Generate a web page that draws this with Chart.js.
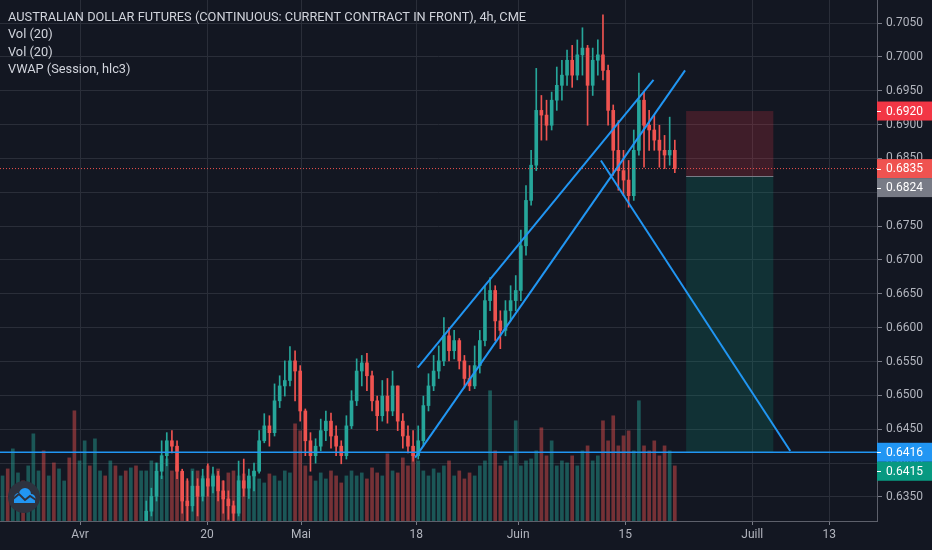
<!DOCTYPE html>
<html>
<head>
<meta charset="utf-8">
<script src="https://cdn.jsdelivr.net/npm/chart.js@4.4.1/dist/chart.umd.min.js"></script>
<style>
  html, body { margin: 0; padding: 0; background: #131722; }
  canvas { display: block; }
</style>
</head>
<body>
<canvas id="chart" width="932" height="550"></canvas>
<script>
// AUD futures, one candle per half trading day, oldest first
var firstOpen = 0.6060;
var closes = [
  0.6070, 0.6040, 0.6085, 0.6110, 0.6060, 0.6095, 0.6120, 0.6150, 0.6130, 0.6165,
  0.6140, 0.6180, 0.6200, 0.6170, 0.6150, 0.6190, 0.6215, 0.6195, 0.6230, 0.6250,
  0.6225, 0.6260, 0.6240, 0.6270, 0.6255, 0.6280, 0.6265, 0.6290,
  0.6329, 0.6351, 0.6388, 0.6411, 0.6433, 0.6425, 0.6388, 0.6344, 0.6337, 0.6366,
  0.6351, 0.6377, 0.6366, 0.6381, 0.6359, 0.6347, 0.6337, 0.6326, 0.6374, 0.6363,
  0.6381, 0.6388, 0.6433, 0.6455, 0.6445, 0.6492, 0.6514, 0.6522, 0.6551, 0.6536,
  0.6477, 0.6433, 0.6411, 0.6425, 0.6448, 0.6462, 0.6440, 0.6425, 0.6411, 0.6455,
  0.6492, 0.6536, 0.6548, 0.6529, 0.6492, 0.6470, 0.6499, 0.6477, 0.6514, 0.6462,
  0.6440, 0.6425, 0.6411, 0.6433, 0.6485, 0.6514, 0.6536, 0.6551, 0.6588, 0.6566,
  0.6581, 0.6551, 0.6525, 0.6514, 0.6544, 0.6581, 0.6640, 0.6655, 0.6610, 0.6596,
  0.6625, 0.6640, 0.6655, 0.6721, 0.6788, 0.6840, 0.6921, 0.6914, 0.6899, 0.6936,
  0.6958, 0.6973, 0.6995, 0.6973, 0.7003, 0.7013, 0.6958, 0.6995, 0.7003, 0.6980,
  0.6921, 0.6862, 0.6832, 0.6818, 0.6795, 0.6862, 0.6936, 0.6899, 0.6892, 0.6877,
  0.6862, 0.6855, 0.6862, 0.6835
];
var highs = [
  0.6090, 0.6080, 0.6100, 0.6125, 0.6115, 0.6110, 0.6135, 0.6165, 0.6160, 0.6180,
  0.6170, 0.6195, 0.6215, 0.6205, 0.6185, 0.6205, 0.6230, 0.6220, 0.6245, 0.6265,
  0.6255, 0.6275, 0.6265, 0.6285, 0.6280, 0.6295, 0.6290, 0.6305,
  0.6344, 0.6363, 0.6400, 0.6433, 0.6445, 0.6448, 0.6433, 0.6391, 0.6377, 0.6388,
  0.6377, 0.6391, 0.6399, 0.6394, 0.6388, 0.6374, 0.6359, 0.6344, 0.6403, 0.6406,
  0.6391, 0.6400, 0.6448, 0.6473, 0.6470, 0.6517, 0.6529, 0.6551, 0.6572, 0.6566,
  0.6544, 0.6480, 0.6445, 0.6436, 0.6465, 0.6477, 0.6474, 0.6455, 0.6433, 0.6470,
  0.6507, 0.6554, 0.6559, 0.6562, 0.6536, 0.6499, 0.6522, 0.6525, 0.6536, 0.6514,
  0.6473, 0.6455, 0.6448, 0.6455, 0.6499, 0.6532, 0.6559, 0.6573, 0.6615, 0.6600,
  0.6596, 0.6584, 0.6559, 0.6544, 0.6573, 0.6596, 0.6662, 0.6674, 0.6662, 0.6625,
  0.6640, 0.6662, 0.6677, 0.6744, 0.6810, 0.6862, 0.6983, 0.6943, 0.6936, 0.6948,
  0.6985, 0.6995, 0.7010, 0.7017, 0.7025, 0.7043, 0.7017, 0.7013, 0.7025, 0.7062,
  0.6988, 0.6929, 0.6906, 0.6862, 0.6847, 0.6892, 0.6976, 0.6948, 0.6921, 0.6914,
  0.6899, 0.6884, 0.6911, 0.6877
];
var lows = [
  0.6040, 0.6020, 0.6030, 0.6075, 0.6050, 0.6055, 0.6085, 0.6110, 0.6120, 0.6125,
  0.6130, 0.6135, 0.6170, 0.6160, 0.6140, 0.6145, 0.6180, 0.6185, 0.6190, 0.6220,
  0.6215, 0.6220, 0.6235, 0.6235, 0.6245, 0.6250, 0.6260, 0.6260,
  0.6300, 0.6322, 0.6344, 0.6377, 0.6396, 0.6415, 0.6377, 0.6326, 0.6314, 0.6329,
  0.6322, 0.6344, 0.6351, 0.6356, 0.6344, 0.6326, 0.6317, 0.6307, 0.6322, 0.6351,
  0.6348, 0.6359, 0.6385, 0.6430, 0.6425, 0.6440, 0.6482, 0.6499, 0.6514, 0.6492,
  0.6462, 0.6411, 0.6388, 0.6400, 0.6418, 0.6433, 0.6422, 0.6411, 0.6399, 0.6406,
  0.6451, 0.6485, 0.6514, 0.6507, 0.6477, 0.6448, 0.6462, 0.6459, 0.6470, 0.6448,
  0.6422, 0.6415, 0.6403, 0.6406, 0.6425, 0.6477, 0.6507, 0.6525, 0.6544, 0.6551,
  0.6554, 0.6539, 0.6511, 0.6507, 0.6510, 0.6533, 0.6573, 0.6625, 0.6581, 0.6569,
  0.6588, 0.6610, 0.6625, 0.6640, 0.6707, 0.6781, 0.6832, 0.6877, 0.6877, 0.6892,
  0.6921, 0.6936, 0.6958, 0.6955, 0.6966, 0.6973, 0.6899, 0.6943, 0.6973, 0.6966,
  0.6899, 0.6825, 0.6803, 0.6795, 0.6778, 0.6788, 0.6855, 0.6837, 0.6862, 0.6862,
  0.6837, 0.6835, 0.6840, 0.6829
];
// hundreds of contracts
var volumes = [
  45, 52, 72, 48, 40, 55, 87, 50, 70, 45, 58, 52, 40, 63, 110, 60, 80, 55, 82, 50,
  45, 60, 55, 45, 50, 53, 55, 50,
  50, 60, 58, 45, 62, 50, 55, 48, 40, 52, 50, 45, 55, 47, 52, 40, 48, 50,
  45, 47, 40, 50, 42, 38, 47, 45, 40, 50, 48, 97, 90, 55, 45, 40, 48, 42, 50, 45,
  38, 45, 50, 45, 48, 42, 53, 48, 45, 67, 50, 48, 63, 55, 67,
  60, 50, 45, 52, 48, 55, 60, 45, 50, 42, 48, 45, 55, 60, 130, 70, 55, 60, 65, 100,
  55, 60, 62,
  70, 93, 65, 80, 55, 60, 58, 65, 55, 70, 75, 60, 65, 100, 80, 105, 75, 85, 90, 70,
  120, 75, 70, 80, 65, 75, 70, 55
];

// time axis in half-day slots
var slotMax = 170.9;
var tickPos = [15.6, 40.35, 58.67, 81.09, 100.97, 121.83, 146.59, 161.6];
var tickLabels = ['Avr', '20', 'Mai', '18', 'Juin', '15', 'Juill', '13'];
var priceTicks = [0.6350, 0.6400, 0.6450, 0.6500, 0.6550, 0.6600, 0.6650, 0.6700,
  0.6750, 0.6800, 0.6850, 0.6900, 0.6950, 0.7000, 0.7050];
var priceMin = 0.63145;
var priceMax = 0.70840;

// drawings
var supportLevel = 0.6416;
var lastPrice = 0.6835;
var channelUpper = [[81.4, 0.6541], [127.35, 0.6966]];
var channelLower = [[80.9, 0.6408], [133.5, 0.6980]];
var downLine = [[117.1, 0.6847], [154.0, 0.6418]];
var posFrom = 133.7, posTo = 150.7;
var stopPrice = 0.6920, entryPrice = 0.6824, targetPrice = 0.6415;

var legendLines = [
  'AUSTRALIAN DOLLAR FUTURES (CONTINUOUS: CURRENT CONTRACT IN FRONT), 4h, CME',
  'Vol (20)',
  'Vol (20)',
  'VWAP (Session, hlc3)'
];
var priceTags = [
  { value: stopPrice, color: '#f23645' },
  { value: lastPrice, color: '#ef5350' },
  { value: entryPrice, color: '#787b86' },
  { value: supportLevel, color: '#2196f3' },
  { value: targetPrice, color: '#089981' }
];

var UP = '#26a69a', DOWN = '#ef5350';
var FONT = 'Roboto, "Noto Sans", sans-serif';

var opens = closes.map(function (c, i) { return i === 0 ? firstOpen : closes[i - 1]; });
var isUp = closes.map(function (c, i) { return c >= opens[i]; });

var wickData = closes.map(function (c, i) {
  return { x: i + 0.5, y: [Math.min(lows[i], opens[i], c), Math.max(highs[i], opens[i], c)] };
});
var bodyData = closes.map(function (c, i) {
  return { x: i + 0.5, y: [opens[i], c] };
});
var volData = volumes.map(function (v, i) { return { x: i + 0.5, y: v }; });

function candleColor(ctx) {
  return isUp[ctx.dataIndex] ? UP : DOWN;
}
function volColor(ctx) {
  return isUp[ctx.dataIndex] ? 'rgba(38,166,154,0.45)' : 'rgba(239,83,80,0.45)';
}
function seg(pts) {
  return pts.map(function (p) { return { x: p[0], y: p[1] }; });
}
function lineSet(data, color, width, dash) {
  return {
    type: 'line', data: data, yAxisID: 'y', borderColor: color, borderWidth: width,
    borderDash: dash || [], pointRadius: 0, fill: false, tension: 0, order: 1
  };
}

var overlay = {
  id: 'overlay',
  beforeDatasetsDraw: function (chart) {
    var c = chart.ctx, x = chart.scales.x, y = chart.scales.y;
    var l = x.getPixelForValue(posFrom), r = x.getPixelForValue(posTo);
    var ys = y.getPixelForValue(stopPrice), ye = y.getPixelForValue(entryPrice), yt = y.getPixelForValue(targetPrice);
    c.save();
    c.fillStyle = 'rgba(242,54,69,0.2)';
    c.fillRect(l, ys, r - l, ye - ys);
    c.fillStyle = 'rgba(8,153,129,0.2)';
    c.fillRect(l, ye, r - l, yt - ye);
    c.strokeStyle = '#787b86';
    c.lineWidth = 1;
    c.beginPath();
    c.moveTo(l, Math.round(ye) + 0.5);
    c.lineTo(r, Math.round(ye) + 0.5);
    c.stroke();
    c.restore();
  },
  afterDraw: function (chart) {
    var c = chart.ctx, area = chart.chartArea, y = chart.scales.y;
    c.save();
    // legend
    c.font = '12.8px ' + FONT;
    c.fillStyle = '#d1d4dc';
    c.textBaseline = 'alphabetic';
    legendLines.forEach(function (t, i) {
      c.fillText(t, 8, 21 + i * 17.3);
    });
    // price tags on the axis
    c.font = '12px ' + FONT;
    var h = 19, prevBottom = -1;
    priceTags.slice().sort(function (a, b) { return b.value - a.value; }).forEach(function (tag) {
      var top = y.getPixelForValue(tag.value) - h / 2;
      if (top < prevBottom) top = prevBottom;
      prevBottom = top + h;
      c.fillStyle = tag.color;
      c.fillRect(area.right, top, chart.width - area.right, h);
      c.fillStyle = '#ffffff';
      c.textBaseline = 'middle';
      c.fillText(tag.value.toFixed(4), area.right + 9, top + h / 2 + 0.5);
      c.fillRect(area.right, Math.round(top + h / 2), 4, 1);
    });
    // logo
    var cx = 24, cy = 497;
    c.fillStyle = '#2e323e';
    c.beginPath();
    c.arc(cx, cy, 16, 0, Math.PI * 2);
    c.fill();
    c.fillStyle = '#2196f3';
    c.beginPath();
    c.arc(cx - 5, cy + 1, 5, 0, Math.PI * 2);
    c.arc(cx + 1, cy - 3, 6, 0, Math.PI * 2);
    c.arc(cx + 7, cy + 1.5, 4.5, 0, Math.PI * 2);
    c.fill();
    c.fillRect(cx - 10, cy + 1, 21, 5);
    c.strokeStyle = '#2e323e';
    c.lineWidth = 2;
    c.beginPath();
    c.moveTo(cx - 11, cy + 2);
    c.lineTo(cx - 5, cy - 3);
    c.lineTo(cx + 1, cy + 3);
    c.lineTo(cx + 6, cy - 1);
    c.lineTo(cx + 12, cy + 3);
    c.stroke();
    c.restore();
  }
};

new Chart(document.getElementById('chart'), {
  type: 'bar',
  data: {
    datasets: [
      lineSet(seg(channelUpper), '#2196f3', 2),
      lineSet(seg(channelLower), '#2196f3', 2),
      lineSet(seg(downLine), '#2196f3', 2),
      lineSet([{ x: 0, y: supportLevel }, { x: slotMax, y: supportLevel }], '#2196f3', 1.5),
      lineSet([{ x: 0, y: lastPrice }, { x: slotMax, y: lastPrice }], '#ef5350', 1, [1, 2]),
      {
        data: bodyData, yAxisID: 'y', backgroundColor: candleColor,
        barThickness: 3, grouped: false, order: 3
      },
      {
        data: wickData, yAxisID: 'y', backgroundColor: candleColor,
        barThickness: 1, grouped: false, order: 4
      },
      {
        data: volData, yAxisID: 'yv', backgroundColor: volColor,
        barThickness: 3, grouped: false, order: 5
      }
    ]
  },
  options: {
    responsive: false,
    animation: false,
    layout: { padding: 0 },
    plugins: { legend: { display: false }, tooltip: { enabled: false } },
    scales: {
      x: {
        type: 'linear',
        min: 0,
        max: slotMax,
        offset: false,
        afterBuildTicks: function (s) {
          s.ticks = tickPos.map(function (v) { return { value: v }; });
        },
        afterFit: function (s) {
          s.height = 29;
          s.paddingLeft = 0;
          s.paddingRight = 0;
        },
        grid: { offset: false, color: '#2a2e39', tickColor: '#787b86', tickLength: 4 },
        border: { color: '#5d606b' },
        ticks: {
          autoSkip: false, maxRotation: 0, padding: 3, color: '#b2b5be',
          font: { family: FONT, size: 12 },
          callback: function (v, i) { return tickLabels[i]; }
        }
      },
      y: {
        type: 'linear',
        position: 'right',
        min: priceMin,
        max: priceMax,
        afterBuildTicks: function (s) {
          s.ticks = priceTicks.map(function (v) { return { value: v }; });
        },
        afterFit: function (s) {
          s.width = 55;
          s.paddingTop = 0;
          s.paddingBottom = 0;
        },
        grid: { color: '#2a2e39', tickColor: '#787b86', tickLength: 5 },
        border: { color: '#5d606b' },
        ticks: {
          padding: 4, color: '#b2b5be',
          font: { family: FONT, size: 12 },
          callback: function (v) { return v.toFixed(4); }
        }
      },
      yv: {
        type: 'linear',
        display: false,
        min: 0,
        max: 520
      }
    }
  },
  plugins: [overlay]
});
</script>
</body>
</html>
